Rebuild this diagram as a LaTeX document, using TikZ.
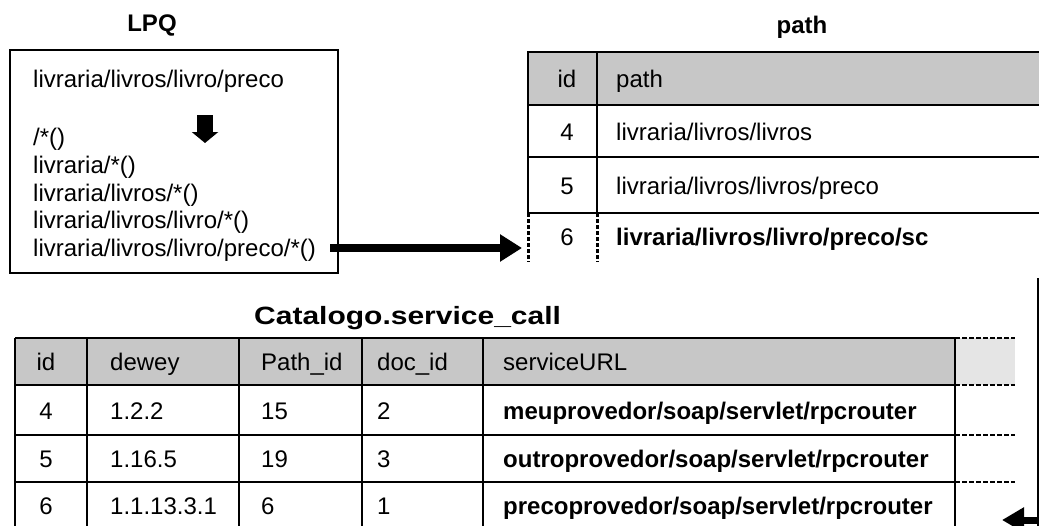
\documentclass[tikz,border=0pt]{standalone}
\usepackage{fontspec}
\usepackage{graphicx}
\setmainfont{Liberation Sans}
\usetikzlibrary{arrows.meta}
\begin{document}
\begin{tikzpicture}[x=1pt,y=-1pt,
  txt/.style={font=\fontsize{24}{28}\selectfont, inner sep=0pt, anchor=base west},
  txtc/.style={txt, anchor=base},
  bold/.style={font=\fontsize{24}{28}\selectfont\bfseries},
  title/.style={font=\fontsize{24}{28}\selectfont\bfseries, inner sep=0pt, anchor=base},
  grid/.style={line width=2pt, black},
  headfill/.style={fill=black!22},
  dashgrid/.style={line width=2pt, dash pattern=on 5pt off 2pt},
  dotvert/.style={line width=3pt, dash pattern=on 4pt off 2pt},
  bigarrow/.style={line width=8pt, -{Triangle[length=22pt,width=26pt]}},
]
\useasboundingbox (0,0) rectangle (1039,525);

% ---------- LPQ box ----------
\node[title] (lpqtitle) at (152,31) {LPQ};
\draw[grid] (10,50) rectangle (338,273);
\node[txt] (q0) at (33,87) {livraria/livros/livro/preco};
\node[txt] (q1) at (33,145) {/*()};
\node[txt] (q2) at (33,173) {livraria/*()};
\node[txt] (q3) at (33,201) {livraria/livros/*()};
\node[txt] (q4) at (33,228) {livraria/livros/livro/*()};
\node[txt] (q5) at (33,256) {livraria/livros/livro/preco/*()};
\coordinate (dtop) at (205,115);
\coordinate (dbot) at (205,143);
\draw[line width=16pt, -{Triangle[length=11pt,width=26pt]}] (dtop) -- (dbot);

% ---------- path table ----------
\node[title] (pathtitle) at (802,33) {path};
\fill[headfill] (528,52) rectangle (1039,105);
\draw[grid] (1040,52) -- (528,52) -- (528,213);
\draw[grid] (528,105) -- (1040,105);
\draw[grid] (528,157) -- (1040,157);
\draw[grid] (528,213) -- (1040,213);
\draw[grid] (597,52) -- (597,213);
\draw[dotvert] (528,213) -- (528,262);
\draw[dotvert] (597,213) -- (597,262);
\node[txtc] (ph1) at (567,87) {id};
\node[txt] (ph2) at (616,87) {path};
\node[txtc] (p41) at (567,140) {4};
\node[txt] (p42) at (616,140) {livraria/livros/livros};
\node[txtc] (p51) at (567,194) {5};
\node[txt] (p52) at (616,194) {livraria/livros/livros/preco};
\node[txtc] (p61) at (567,245) {6};
\node[txt, bold] (p62) at (616,245) {livraria/livros/livro/preco/sc};
\coordinate (prow6) at (522,248);
\draw[bigarrow] (330,248) -- (prow6);

% ---------- Catalogo.service_call table ----------
\node[font=\fontsize{25}{30}\selectfont\bfseries, inner sep=0pt, anchor=base west] (sctitle) at (254,324) {\scalebox{1.2}[1]{Catalogo.service\_call}};
\fill[headfill] (15,338) rectangle (955,385);
\fill[black!10] (955,338) rectangle (1015,385);
\draw[grid] (15,338) -- (955,338);
\draw[grid] (15,385) -- (955,385);
\draw[grid] (15,435) -- (955,435);
\draw[grid] (15,482) -- (955,482);
\foreach \cx in {15,87,239,362,483,955}
  \draw[grid] (\cx,338) -- (\cx,526);
\foreach \ry in {338,385,435,482}
  \draw[dashgrid] (955,\ry) -- (1015,\ry);

\node[txtc] (h1) at (46,370) {id};
\node[txt] (h2) at (110,370) {dewey};
\node[txt] (h3) at (261,370) {Path\_id};
\node[txt] (h4) at (377,370) {doc\_id};
\node[txt] (h5) at (503,370) {serviceURL};

\node[txtc] (r11) at (46,419) {4};
\node[txt] (r12) at (110,419) {1.2.2};
\node[txt] (r13) at (261,419) {15};
\node[txt] (r14) at (377,419) {2};
\node[txt, bold] (r15) at (503,419) {meuprovedor/soap/servlet/rpcrouter};

\node[txtc] (r21) at (46,467) {5};
\node[txt] (r22) at (110,467) {1.16.5};
\node[txt] (r23) at (261,467) {19};
\node[txt] (r24) at (377,467) {3};
\node[txt, bold] (r25) at (503,467) {outroprovedor/soap/servlet/rpcrouter};

\node[txtc] (r31) at (46,514) {6};
\node[txt] (r32) at (110,514) {1.1.13.3.1};
\node[txt] (r33) at (261,514) {6};
\node[txt] (r34) at (377,514) {1};
\node[txt, bold] (r35) at (503,514) {precoprovedor/soap/servlet/rpcrouter};

% ---------- return connector on the right ----------
\coordinate (rtop) at (1037.5,278);
\coordinate (rbot) at (1037.5,526);
\draw[line width=2pt] (rtop) -- (rbot);
\coordinate (rin) at (1045,520);
\coordinate (rtip) at (1002,520);
\draw[line width=7pt, -{Triangle[length=22pt,width=24pt]}] (rin) -- (rtip);
\end{tikzpicture}
\end{document}
